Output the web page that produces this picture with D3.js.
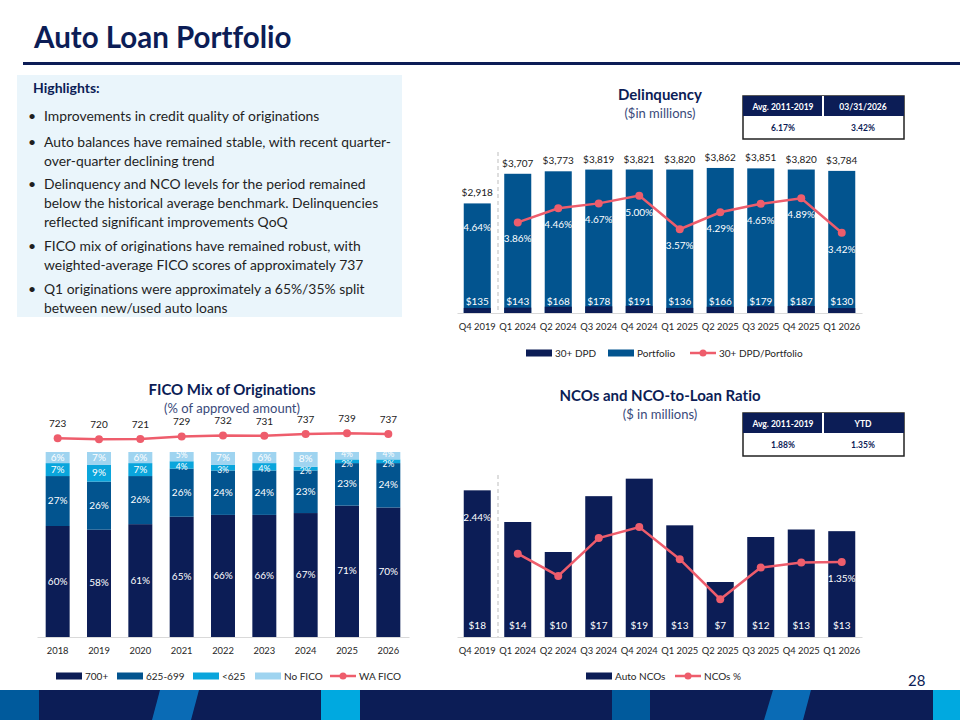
<!DOCTYPE html>
<html>
<head>
<meta charset="utf-8">
<title>Auto Loan Portfolio</title>
<script src="https://cdn.jsdelivr.net/npm/d3@7"></script>
<style>
body { margin: 0; background: #fff; }
svg text { font-family: Lato, "Open Sans", sans-serif; font-variant-ligatures: none; font-feature-settings: "liga" 0, "clig" 0; }
</style>
</head>
<body>
<div id="slide"></div>
<script>
// ---- data ----
var quarters = ["Q4 2019", "Q1 2024", "Q2 2024", "Q3 2024", "Q4 2024", "Q1 2025", "Q2 2025", "Q3 2025", "Q4 2025", "Q1 2026"];
var portfolio = [2918, 3707, 3773, 3819, 3821, 3820, 3862, 3851, 3820, 3784];
var dpd30 = [135, 143, 168, 178, 191, 136, 166, 179, 187, 130];
var dpdRatio = [4.64, 3.86, 4.46, 4.67, 5.00, 3.57, 4.29, 4.65, 4.89, 3.42];

var years = ["2018", "2019", "2020", "2021", "2022", "2023", "2024", "2025", "2026"];
var fico700 = [60, 58, 61, 65, 66, 66, 67, 71, 70];
var fico625 = [27, 26, 26, 26, 24, 24, 23, 23, 24];
var ficoLow = [7, 9, 7, 4, 3, 4, 2, 2, 2];
var ficoNone = [6, 7, 6, 5, 7, 6, 8, 4, 4];
var waFico = [723, 720, 721, 729, 732, 731, 737, 739, 737];

var ncoAmt = [17.6, 13.8, 10.2, 16.9, 19.0, 13.4, 6.6, 12.0, 12.9, 12.7];
var ncoRatio = [2.44, 1.50, 1.10, 1.78, 1.98, 1.40, 0.68, 1.25, 1.34, 1.35];

var delqTable = [["Avg. 2011-2019", "03/31/2026"], ["6.17%", "3.42%"]];
var ncoTable = [["Avg. 2011-2019", "YTD"], ["1.88%", "1.35%"]];

var highlights = [
  ["Improvements in credit quality of originations"],
  ["Auto balances have remained stable, with recent quarter-", "over-quarter declining trend"],
  ["Delinquency and NCO levels for the period remained", "below the historical average benchmark. Delinquencies", "reflected significant improvements QoQ"],
  ["FICO mix of originations have remained robust, with", "weighted-average FICO scores of approximately 737"],
  ["Q1 originations were approximately a 65%/35% split", "between new/used auto loans"]
];

var navy = "#0c1d56", blue = "#02548f", cyan = "#0aa5dc", pale = "#9fd4f0", coral = "#ee5d6c";

var svg = d3.select("#slide").append("svg").attr("width", 960).attr("height", 720);

// ---- header ----
svg.append("text").attr("x", 34).attr("y", 48).text("Auto Loan Portfolio")
  .style("font-size", "29.5px").style("font-weight", "bold").style("fill", navy);
svg.append("rect").attr("x", 23).attr("y", 62).attr("width", 937).attr("height", 3).style("fill", navy);

// ---- highlights box ----
svg.append("rect").attr("x", 17).attr("y", 75).attr("width", 385).attr("height", 242).style("fill", "#eaf5fb");
svg.append("text").attr("x", 33).attr("y", 93).text("Highlights:")
  .style("font-size", "14px").style("font-weight", "bold").style("fill", navy);
var bulletTop = [121, 147, 189, 251, 294];
highlights.forEach(function (lines, i) {
  svg.append("text").attr("x", 28).attr("y", bulletTop[i]).text("\u2022")
    .style("font-size", "14px").style("fill", "#1f1f1f");
  lines.forEach(function (l, j) {
    svg.append("text").attr("x", 44).attr("y", bulletTop[i] + j * 18.8).text(l)
      .style("font-size", "13.9px").style("fill", "#1f1f1f");
  });
});

function chartTitle(cx, y, t1, t2) {
  svg.append("text").attr("x", cx).attr("y", y).attr("text-anchor", "middle").text(t1)
    .style("font-size", "15px").style("font-weight", "bold").style("fill", navy);
  svg.append("text").attr("x", cx).attr("y", y + 18).attr("text-anchor", "middle").text(t2)
    .style("font-size", "13px").style("fill", "#3a4a7a");
}

function statTable(x, y, rows) {
  var w = 161, h1 = 20, h2 = 23, mid = 80;
  svg.append("rect").attr("x", x).attr("y", y).attr("width", w).attr("height", h1 + h2)
    .style("fill", "#fff").style("stroke", "#222").style("stroke-width", 1.5);
  svg.append("rect").attr("x", x).attr("y", y).attr("width", w).attr("height", h1).style("fill", navy);
  svg.append("rect").attr("x", x + mid - 1).attr("y", y).attr("width", 2).attr("height", h1).style("fill", "#fff");
  rows[0].forEach(function (t, i) {
    svg.append("text").attr("x", x + mid / 2 + i * mid).attr("y", y + 13.5).attr("text-anchor", "middle").text(t)
      .style("font-size", "8.5px").style("font-weight", "bold").style("fill", "#fff");
  });
  rows[1].forEach(function (t, i) {
    svg.append("text").attr("x", x + mid / 2 + i * mid).attr("y", y + h1 + 15).attr("text-anchor", "middle").text(t)
      .style("font-size", "8.5px").style("font-weight", "bold").style("fill", navy);
  });
}

function legend(items, y) {
  items.forEach(function (it) {
    if (it.line) {
      svg.append("line").attr("x1", it.x).attr("x2", it.x + 26).attr("y1", y).attr("y2", y)
        .style("stroke", it.color).style("stroke-width", 2.5);
      svg.append("circle").attr("cx", it.x + 13).attr("cy", y).attr("r", 3.5).style("fill", it.color);
    } else {
      svg.append("rect").attr("x", it.x).attr("y", y - 3.5).attr("width", 26).attr("height", 7).style("fill", it.color);
    }
    svg.append("text").attr("x", it.x + 29).attr("y", y + 3.5).text(it.label)
      .style("font-size", "10px").style("fill", "#262626");
  });
}

function xAxis(x, y) {
  var g = svg.append("g").attr("transform", "translate(0," + y + ")")
    .call(d3.axisBottom(x).tickSize(0).tickPadding(10));
  g.select(".domain").style("stroke", "#d9d9d9");
  g.selectAll("text").style("font-size", "9.4px").style("fill", "#262626").style("font-family", "Lato, sans-serif");
  return g;
}

// ---- Delinquency chart ----
chartTitle(660, 100, "Delinquency", "($in millions)");
statTable(743, 96, delqTable);

var xq = d3.scaleBand().domain(quarters).range([457, 862]).paddingInner(0.333).paddingOuter(0.1665);
var yD = d3.scaleLinear().domain([0, 4500]).range([313, 144]);
var yR = d3.scaleLinear().domain([0, 7.2]).range([313, 144]);

svg.append("line").attr("x1", 498).attr("x2", 498).attr("y1", 152).attr("y2", 313)
  .style("stroke", "#c8c8c8").style("stroke-width", 1.2).style("stroke-dasharray", "4,3");

svg.selectAll(".pbar").data(quarters).enter().append("rect")
  .attr("x", function (d) { return xq(d); }).attr("width", xq.bandwidth())
  .attr("y", function (d, i) { return yD(portfolio[i]); })
  .attr("height", function (d, i) { return yD(0) - yD(portfolio[i]); })
  .style("fill", blue);
svg.selectAll(".dbar").data(quarters).enter().append("rect")
  .attr("x", function (d) { return xq(d); }).attr("width", xq.bandwidth())
  .attr("y", function (d, i) { return yD(dpd30[i]); })
  .attr("height", function (d, i) { return yD(0) - yD(dpd30[i]); })
  .style("fill", navy);
svg.selectAll(".ptxt").data(quarters).enter().append("text")
  .attr("x", function (d) { return xq(d) + xq.bandwidth() / 2; })
  .attr("y", function (d, i) { return yD(portfolio[i]) - 7; })
  .attr("text-anchor", "middle").text(function (d, i) { return "$" + d3.format(",")(portfolio[i]); })
  .style("font-size", "10px").style("fill", "#1a1a1a");
svg.selectAll(".dtxt").data(quarters).enter().append("text")
  .attr("x", function (d) { return xq(d) + xq.bandwidth() / 2; })
  .attr("y", 305)
  .attr("text-anchor", "middle").text(function (d, i) { return "$" + dpd30[i]; })
  .style("font-size", "10px").style("fill", "#fff");

var dLine = d3.line().x(function (d) { return xq(d) + xq.bandwidth() / 2; })
  .y(function (d) { return yR(dpdRatio[quarters.indexOf(d)]); });
svg.append("path").datum(quarters.slice(1)).attr("d", dLine)
  .style("fill", "none").style("stroke", coral).style("stroke-width", 2.5);
svg.selectAll(".rdot").data(quarters.slice(1)).enter().append("circle")
  .attr("cx", function (d) { return xq(d) + xq.bandwidth() / 2; })
  .attr("cy", function (d) { return yR(dpdRatio[quarters.indexOf(d)]); })
  .attr("r", 4).style("fill", coral);
svg.selectAll(".rtxt").data(quarters).enter().append("text")
  .attr("x", function (d) { return xq(d) + xq.bandwidth() / 2; })
  .attr("y", function (d, i) { return yR(dpdRatio[i]) + (i === 0 ? 27 : 20); })
  .attr("text-anchor", "middle").text(function (d, i) { return dpdRatio[i].toFixed(2) + "%"; })
  .style("font-size", "10px").style("fill", "#fff");

xAxis(xq, 313);
legend([
  { x: 526, label: "30+ DPD", color: navy },
  { x: 608, label: "Portfolio", color: blue },
  { x: 690, label: "30+ DPD/Portfolio", color: coral, line: true }
], 353);

// ---- FICO mix chart ----
chartTitle(232, 395, "FICO Mix of Originations", "(% of approved amount)");
var xy = d3.scaleBand().domain(years).range([37, 409]).paddingInner(0.42).paddingOuter(0.21);
var yP = d3.scaleLinear().domain([0, 100]).range([637, 452]);
var yF = d3.scaleLinear().domain([700, 760]).range([445.6, 426.6]);

var ficoSeries = [
  { vals: fico700, color: navy },
  { vals: fico625, color: blue },
  { vals: ficoLow, color: cyan },
  { vals: ficoNone, color: pale }
];
var stackData = years.map(function (yr, i) {
  var o = { year: yr };
  ficoSeries.forEach(function (s, k) { o["s" + k] = s.vals[i]; });
  return o;
});
var stacked = d3.stack().keys(["s0", "s1", "s2", "s3"])(stackData);
stacked.forEach(function (layer, k) {
  var g = svg.append("g");
  g.selectAll("rect").data(layer).enter().append("rect")
    .attr("x", function (d) { return xy(d.data.year); }).attr("width", xy.bandwidth())
    .attr("y", function (d) { return yP(d[1]); })
    .attr("height", function (d) { return yP(d[0]) - yP(d[1]); })
    .style("fill", ficoSeries[k].color);
  g.selectAll("text").data(layer).enter().append("text")
    .attr("x", function (d) { return xy(d.data.year) + xy.bandwidth() / 2; })
    .attr("y", function (d) {
      // thin segments: nudge the pale label up and the cyan one down so they don't collide
      var h = yP(d[0]) - yP(d[1]), c = (yP(d[0]) + yP(d[1])) / 2;
      if (h < 11 && k === 3) c -= 2;
      if (h < 11 && k === 2) c += 2.5;
      return c + 3;
    })
    .attr("text-anchor", "middle").text(function (d) { return (d[1] - d[0]) + "%"; })
    .style("font-size", function (d) { return (yP(d[0]) - yP(d[1]) < 11) ? "8.5px" : "10px"; })
    .style("fill", "#fff");
});

var fLine = d3.line().x(function (d, i) { return xy(years[i]) + xy.bandwidth() / 2; })
  .y(function (d) { return yF(d); });
svg.append("path").datum(waFico).attr("d", fLine)
  .style("fill", "none").style("stroke", coral).style("stroke-width", 2.5);
svg.selectAll(".fdot").data(waFico).enter().append("circle")
  .attr("cx", function (d, i) { return xy(years[i]) + xy.bandwidth() / 2; })
  .attr("cy", function (d) { return yF(d); })
  .attr("r", 4).style("fill", coral);
svg.selectAll(".ftxt").data(waFico).enter().append("text")
  .attr("x", function (d, i) { return xy(years[i]) + xy.bandwidth() / 2; })
  .attr("y", function (d) { return yF(d) - 11; })
  .attr("text-anchor", "middle").text(function (d) { return d; })
  .style("font-size", "10px").style("fill", "#1a1a1a");

xAxis(xy, 637);
legend([
  { x: 56, label: "700+", color: navy },
  { x: 117, label: "625-699", color: blue },
  { x: 193, label: "<625", color: cyan },
  { x: 255, label: "No FICO", color: pale },
  { x: 330, label: "WA FICO", color: coral, line: true }
], 676);

// ---- NCO chart ----
chartTitle(660, 401, "NCOs and NCO-to-Loan Ratio", "($ in millions)");
statTable(743, 413, ncoTable);

var yN = d3.scaleLinear().domain([0, 24]).range([637, 437]);
var yNr = d3.scaleLinear().domain([0, 3.6]).range([637, 437]);

svg.append("line").attr("x1", 498).attr("x2", 498).attr("y1", 475).attr("y2", 637)
  .style("stroke", "#c8c8c8").style("stroke-width", 1.2).style("stroke-dasharray", "4,3");

svg.selectAll(".nbar").data(quarters).enter().append("rect")
  .attr("x", function (d) { return xq(d); }).attr("width", xq.bandwidth())
  .attr("y", function (d, i) { return yN(ncoAmt[i]); })
  .attr("height", function (d, i) { return yN(0) - yN(ncoAmt[i]); })
  .style("fill", navy);
svg.selectAll(".ntxt").data(quarters).enter().append("text")
  .attr("x", function (d) { return xq(d) + xq.bandwidth() / 2; })
  .attr("y", 629)
  .attr("text-anchor", "middle").text(function (d, i) { return "$" + Math.round(ncoAmt[i]); })
  .style("font-size", "10px").style("fill", "#fff");

var nLine = d3.line().x(function (d) { return xq(d) + xq.bandwidth() / 2; })
  .y(function (d) { return yNr(ncoRatio[quarters.indexOf(d)]); });
svg.append("path").datum(quarters.slice(1)).attr("d", nLine)
  .style("fill", "none").style("stroke", coral).style("stroke-width", 2.5);
svg.selectAll(".ndot").data(quarters.slice(1)).enter().append("circle")
  .attr("cx", function (d) { return xq(d) + xq.bandwidth() / 2; })
  .attr("cy", function (d) { return yNr(ncoRatio[quarters.indexOf(d)]); })
  .attr("r", 4).style("fill", coral);
// only first and latest ratios are labelled
[0, quarters.length - 1].forEach(function (i) {
  svg.append("text").attr("x", xq(quarters[i]) + xq.bandwidth() / 2)
    .attr("y", yNr(ncoRatio[i]) + 20).attr("text-anchor", "middle")
    .text(ncoRatio[i].toFixed(2) + "%").style("font-size", "10px").style("fill", "#fff");
});

xAxis(xq, 637);
legend([
  { x: 586, label: "Auto NCOs", color: navy },
  { x: 675, label: "NCOs %", color: coral, line: true }
], 676);

svg.append("text").attr("x", 908).attr("y", 686).text("28")
  .style("font-size", "15px").style("fill", navy);

// ---- footer band ----
svg.append("rect").attr("x", 0).attr("y", 690).attr("width", 960).attr("height", 30).style("fill", navy);
svg.append("rect").attr("x", 0).attr("y", 690).attr("width", 39).attr("height", 30).style("fill", "#005a9c");
svg.append("rect").attr("x", 321).attr("y", 690).attr("width", 39).attr("height", 30).style("fill", "#00a9e0");
svg.append("rect").attr("x", 612).attr("y", 690).attr("width", 38).attr("height", 30).style("fill", "#005a9c");
svg.append("rect").attr("x", 933).attr("y", 690).attr("width", 27).attr("height", 30).style("fill", "#00a9e0");
svg.append("polygon").attr("points", "160,690 199,690 191,720 152,720").style("fill", "#0a6bb5");
svg.append("polygon").attr("points", "773,690 811,690 803,720 764,720").style("fill", "#0a6bb5");
</script>
</body>
</html>
